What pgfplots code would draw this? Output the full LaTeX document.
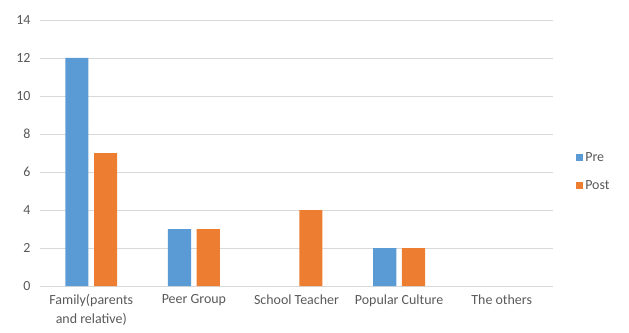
\documentclass[border=0pt]{standalone}
\usepackage{pgfplots}
\pgfplotsset{compat=1.18}
\usepackage{fontspec}
\setmainfont{Carlito}
\definecolor{preblue}{HTML}{5B9BD5}
\definecolor{postorange}{HTML}{ED7D31}
\definecolor{gridgray}{HTML}{D9D9D9}
\definecolor{textgray}{HTML}{595959}
\begin{document}
\begin{tikzpicture}[x=1bp,y=1bp]
% fixed page frame around the plot area
\path[use as bounding box] (-40,-46) rectangle (589,286);
\begin{axis}[
  at={(0,0)}, anchor=south west,
  scale only axis, width=513bp, height=266bp,
  xmin=-0.5, xmax=4.5, ymin=0, ymax=14,
  ytick={0,2,...,14},
  xtick={0,1,2,3,4},
  xticklabels={{Family(parents\\and relative)},Peer Group,School Teacher,Popular Culture,The others},
  xticklabel style={align=center, font=\fontsize{14}{19}\selectfont, text=textgray, yshift=-5bp},
  yticklabel style={font=\fontsize{14}{16}\selectfont, text=textgray, xshift=-6bp},
  /pgf/number format/assume math mode=true,
  ymajorgrids, grid style={gridgray, line width=0.8pt},
  axis line style={draw=none},
  major tick length=0pt,
  ybar, bar width=0.225,
  enlarge x limits=false,
  % zero counts draw no bar
  y filter/.expression={y==0 ? nan : y},
  unbounded coords=discard,
  legend style={draw=none, at={(1.045,0.43)}, anchor=west, font=\fontsize{14}{16}\selectfont, text=textgray, row sep=13bp, inner sep=0pt},
  legend cell align=left,
  legend image code/.code={\fill[#1] (0bp,-3.5bp) rectangle (7bp,3.5bp);},
]
\addplot[fill=preblue, draw=none, bar shift=-0.14] coordinates {(0,12) (1,3) (2,0) (3,2) (4,0)};
\addplot[fill=postorange, draw=none, bar shift=0.14] coordinates {(0,7) (1,3) (2,4) (3,2) (4,0)};
\legend{Pre,Post}
\end{axis}
\end{tikzpicture}
\end{document}
